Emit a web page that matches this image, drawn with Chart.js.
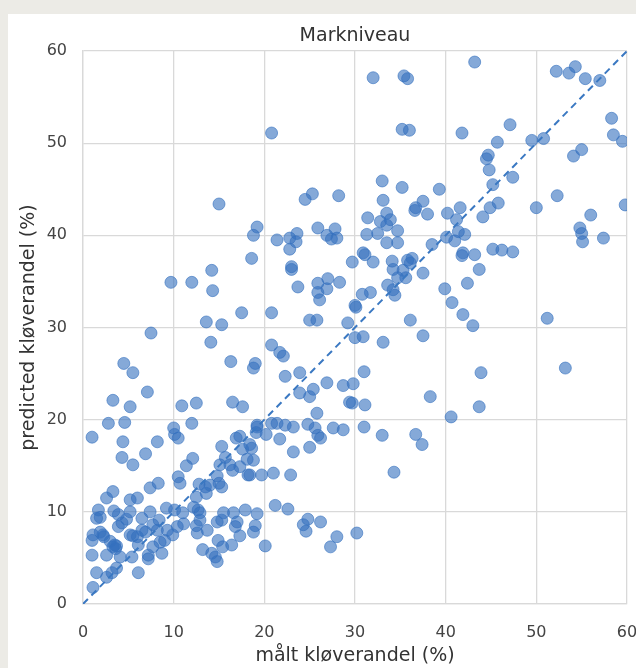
<!DOCTYPE html>
<html>
<head>
<meta charset="utf-8">
<script src="https://cdn.jsdelivr.net/npm/chart.js@4.4.0/dist/chart.umd.min.js"></script>
<style>
  html, body { margin: 0; padding: 0; background: #ecebe6; }
  #card { position: absolute; left: 8px; top: 14px; width: 628px; height: 654px; background: #fff; }
</style>
</head>
<body>
<div id="card"><canvas id="chart"></canvas></div>
<script>
// målt kløverandel (%) -- x values
const maaltX = [
  20.8, 32.0, 35.4, 35.8, 35.2, 36.0, 43.2, 41.8, 52.2, 53.6, 54.3, 55.4, 57.0, 58.3, 58.5, 59.5, 59.8,
  47.1, 45.7, 44.7, 44.5, 44.8, 45.2, 47.4, 49.5, 50.8, 54.1, 55.0, 52.3, 50.0, 56.0, 45.8, 44.9, 44.1,
  41.6, 40.2, 41.2, 39.3, 54.8, 55.0, 55.1, 57.4, 33.0, 35.2, 33.1, 37.5, 36.7, 36.6, 38.0, 25.3, 24.5,
  28.2, 31.4, 33.5, 33.9, 32.8, 19.2, 18.8, 25.9, 27.8, 31.3, 34.7, 33.5, 21.4, 22.8, 23.6, 26.9, 28.0,
  40.1, 15.0,
  23.5, 22.8, 27.4, 32.5, 33.5, 34.7, 38.5, 18.6, 23.0, 23.0, 23.7, 25.9, 27.0, 28.3, 25.9, 26.1, 26.9,
  29.7, 30.9, 32.0, 31.1, 34.1, 34.2, 36.3, 35.8, 36.1, 35.3, 37.5, 33.6, 34.2, 34.4, 34.7, 35.6, 30.8,
  31.7, 30.0, 30.1, 20.8, 25.0, 25.8, 29.2, 36.1, 37.5, 33.1, 30.0, 30.9, 20.8, 21.7, 22.1, 22.3, 23.9,
  26.9, 28.7, 29.8, 31.0, 25.4, 25.0, 23.9, 29.7, 29.4, 31.1, 25.8, 38.3,
  41.4, 42.1, 41.0, 41.9, 41.8, 43.2, 45.2, 46.2, 47.4, 43.7, 42.4, 39.9, 40.7, 41.9, 43.0, 51.2, 43.9,
  53.2, 43.7, 40.6,
  14.2, 12.0, 9.7, 14.3, 17.5, 13.6, 15.3, 7.5, 14.1, 16.3, 19.0, 18.8, 4.5, 5.5, 7.1, 3.3, 5.2, 10.9,
  12.5, 16.5, 17.6, 2.8, 4.6, 10.0, 12.0, 19.2,
  1.0, 4.4, 8.2, 10.1, 10.5, 4.3, 5.5, 6.9, 11.4, 12.1, 10.5, 7.4, 8.3, 2.6, 3.3, 5.2, 6.0, 1.7, 1.5,
  1.9, 3.4, 3.9, 4.8, 5.2, 6.5, 7.4, 8.4, 9.2, 10.1, 11.0, 12.2, 12.7, 12.9, 1.1, 1.9, 2.2, 1.0, 2.3,
  3.9, 4.3, 5.2, 5.5, 6.0, 3.0, 3.5, 3.7, 3.6, 6.5, 6.9, 7.7, 8.2, 9.3, 9.9, 10.4, 11.1, 12.5, 12.6,
  12.9, 13.7, 14.8, 15.3, 16.8, 1.0, 2.6, 3.3, 4.1, 6.1, 7.2, 7.7, 8.5, 9.0, 3.7, 1.5, 1.1, 2.6, 3.2,
  5.4, 6.1, 7.2, 8.7, 13.2, 14.2, 14.6, 14.8, 14.9, 15.4, 16.4, 17.3, 18.8, 19.0,
  12.8, 13.5, 14.8, 15.0, 15.3, 15.3, 15.7, 16.9, 17.3, 17.6, 18.4, 18.1, 17.3, 16.2, 18.2, 19.1, 16.5,
  15.1, 14.0, 13.6, 10.7, 12.5, 15.5, 16.6, 17.0, 17.9,
  19.2, 20.8, 21.4, 22.3, 23.2, 24.8, 25.6, 25.9, 26.2, 27.6, 28.7, 31.0, 33.0, 36.7, 37.4, 20.2, 21.7,
  18.6, 18.8, 23.2, 25.0, 18.4, 19.7, 21.0, 22.9, 34.3, 21.2, 22.6, 19.2, 24.8, 24.3, 24.6, 26.2, 28.0,
  27.3, 30.2, 20.1
];

// predicted kløverandel (%) -- y values
const predY = [
  51.1, 57.1, 57.3, 57.0, 51.5, 51.4, 58.8, 51.1, 57.8, 57.6, 58.3, 57.0, 56.8, 52.7, 50.9, 50.2, 43.3,
  52.0, 50.1, 48.7, 48.3, 47.1, 45.5, 46.3, 50.3, 50.5, 48.6, 49.3, 44.3, 43.0, 42.2, 43.5, 43.0, 42.0,
  43.0, 42.4, 41.7, 45.0, 40.8, 40.2, 39.3, 39.7, 45.9, 45.2, 43.8, 43.7, 43.0, 42.7, 42.3, 44.5, 43.9,
  44.3, 41.9, 42.4, 41.7, 41.5, 40.9, 40.0, 40.8, 40.7, 40.1, 40.5, 41.1, 39.5, 39.7, 40.2, 40.0, 39.7,
  39.8, 43.4,
  39.3, 38.5, 39.6, 40.2, 39.2, 39.2, 39.0, 37.5, 36.6, 36.3, 34.4, 34.8, 35.3, 34.9, 33.8, 33.0, 34.2,
  37.1, 38.1, 37.1, 37.9, 37.2, 36.3, 37.5, 37.3, 37.0, 36.2, 35.9, 34.6, 34.1, 33.5, 35.4, 35.4, 33.6,
  33.8, 32.4, 32.2, 31.6, 30.8, 30.8, 30.5, 30.8, 29.1, 28.4, 28.9, 29.0, 28.1, 27.3, 26.9, 24.7, 25.1,
  24.0, 23.7, 23.9, 25.2, 23.3, 22.5, 22.9, 21.8, 21.9, 21.6, 20.7, 22.5,
  40.4, 40.1, 39.4, 38.1, 37.8, 37.9, 38.5, 38.4, 38.2, 36.3, 34.8, 34.2, 32.7, 31.4, 30.2, 31.0, 25.1,
  25.6, 21.4, 20.3,
  36.2, 34.9, 34.9, 34.0, 31.6, 30.6, 30.3, 29.4, 28.4, 26.3, 26.1, 25.6, 26.1, 25.1, 23.0, 22.1, 21.4, 21.5,
  21.8, 21.9, 21.4, 19.6, 19.7, 19.1, 19.6, 19.2,
  18.1, 17.6, 17.6, 18.4, 18.0, 15.9, 15.1, 16.3, 15.0, 15.8, 13.8, 12.6, 13.1, 11.5, 12.2, 11.3, 11.5, 10.2, 9.3,
  9.4, 10.1, 9.7, 9.2, 10.0, 9.3, 10.0, 9.1, 10.4, 10.2, 9.9, 10.5, 10.2, 9.9, 7.5, 7.8, 7.5, 6.9, 7.3,
  8.4, 8.8, 7.5, 7.4, 7.3, 6.8, 6.4, 6.3, 6.0, 8.0, 7.8, 8.6, 8.0, 8.0, 7.5, 8.4, 8.7, 8.5, 7.7,
  9.1, 8.0, 8.9, 9.1, 8.4, 5.3, 5.3, 6.2, 5.1, 6.4, 5.3, 6.2, 6.7, 6.9, 3.9, 3.4, 1.8, 2.9, 3.4,
  5.1, 3.4, 4.9, 5.5, 5.9, 5.5, 5.1, 4.6, 6.9, 6.2, 6.4, 7.4, 7.8, 8.5,
  13.0, 12.7, 13.9, 13.1, 12.7, 17.1, 15.9, 18.0, 18.2, 16.8, 17.3, 15.7, 14.9, 15.1, 14.0, 18.6, 14.5,
  15.1, 12.9, 12.0, 13.1, 11.6, 9.9, 9.9, 8.9, 10.2,
  19.4, 19.6, 19.6, 19.4, 19.2, 19.5, 19.1, 18.3, 18.0, 19.1, 18.9, 19.2, 18.3, 18.4, 17.3, 18.4, 17.9,
  16.9, 15.6, 16.5, 17.0, 14.0, 14.0, 14.2, 14.0, 14.3, 10.7, 10.3, 9.8, 9.2, 8.6, 7.9, 8.9, 7.3,
  6.2, 7.7, 6.3
];

// 1:1 reference line
const lineX = [0, 60];
const lineY = [0, 60];

const axisMin = 0;
const axisMax = 60;
const axisStep = 10;

const points = maaltX.map((x, i) => ({ x: x, y: predY[i] }));
const diagonal = lineX.map((x, i) => ({ x: x, y: lineY[i] }));

const FONT = "'DejaVu Sans', sans-serif";
const GRID = '#d9d9d9';

// title centred over the plot area, not the whole canvas
const plotTitle = {
  id: 'plotTitle',
  afterDraw(chart) {
    const { ctx, chartArea } = chart;
    ctx.save();
    ctx.font = "19px " + FONT;
    ctx.fillStyle = '#333';
    ctx.textAlign = 'center';
    ctx.textBaseline = 'middle';
    ctx.fillText('Markniveau', (chartArea.left + chartArea.right) / 2, 22);
    ctx.restore();
  }
};

const config = {
  type: 'scatter',
  data: {
    datasets: [
      {
        type: 'line',
        data: diagonal,
        borderColor: '#3a78c2',
        borderWidth: 2,
        borderDash: [7, 5],
        pointRadius: 0,
        fill: false,
        order: 0,
      },
      {
        data: points,
        backgroundColor: 'rgba(52, 112, 190, 0.6)',
        borderColor: 'rgba(52, 112, 190, 0.6)',
        borderWidth: 1,
        pointRadius: 6,
        clip: 0,
        order: 1,
      },
    ],
  },
  options: {
    responsive: true,
    maintainAspectRatio: false,
    animation: false,
    layout: { padding: { top: 37, right: 9, left: 0, bottom: 0 } },
    plugins: {
      legend: { display: false },
      tooltip: { enabled: false },
    },
    scales: {
      x: {
        type: 'linear',
        min: axisMin,
        max: axisMax,
        afterFit: (scale) => {
          scale.height = 64;
          scale.paddingLeft = 0;
          scale.paddingRight = 0;
        },
        ticks: { stepSize: axisStep, padding: 19, color: '#444', font: { family: FONT, size: 16 } },
        grid: { color: GRID, lineWidth: 1.3, drawTicks: false },
        border: { display: true, color: GRID, width: 1.3 },
        title: {
          display: true,
          text: 'målt kløverandel (%)',
          color: '#333',
          font: { family: FONT, size: 19 },
          padding: { top: 0, bottom: 1 },
        },
      },
      y: {
        type: 'linear',
        min: axisMin,
        max: axisMax,
        afterFit: (scale) => {
          scale.width = 75;
          scale.paddingTop = 0;
          scale.paddingBottom = 0;
        },
        ticks: { stepSize: axisStep, padding: 16, color: '#444', font: { family: FONT, size: 16 } },
        grid: { color: GRID, lineWidth: 1.3, drawTicks: false },
        border: { display: true, color: GRID, width: 1.3 },
        title: {
          display: true,
          text: 'predicted kløverandel (%)',
          color: '#333',
          font: { family: FONT, size: 19 },
          padding: { top: 10, bottom: 0 },
        },
      },
    },
  },
  plugins: [plotTitle],
};

const ctx = document.getElementById('chart').getContext('2d');
const myChart = new Chart(ctx, config);
</script>
</body>
</html>
